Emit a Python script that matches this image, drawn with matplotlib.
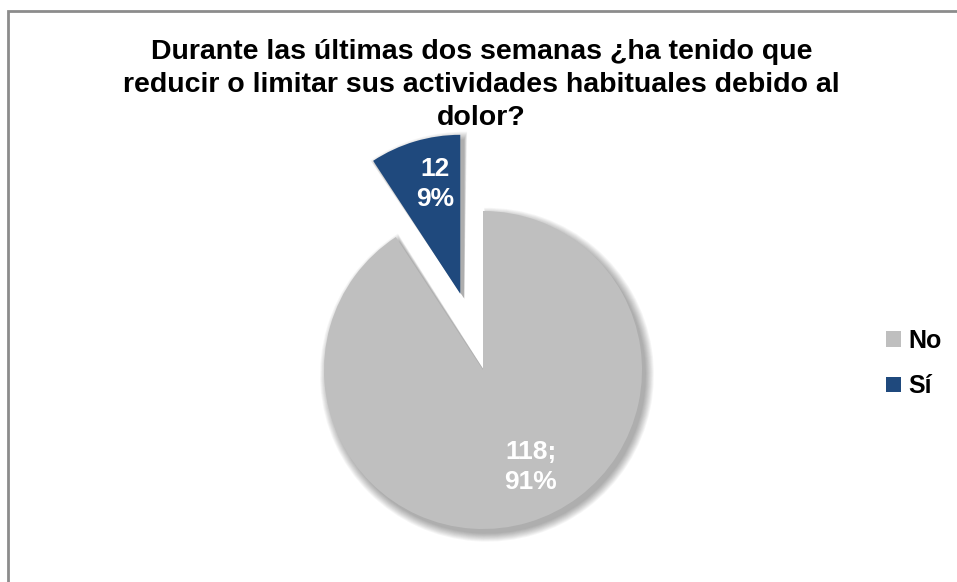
import numpy as np
import matplotlib
matplotlib.use("Agg")
import matplotlib.pyplot as plt
from matplotlib.patches import Wedge, Rectangle

plt.rcParams['font.family'] = ['Liberation Sans', 'DejaVu Sans']

categories = ['No', 'Sí']
counts = [118, 12]
percents = [91, 9]
label_text = ['118;\n91%', '12\n9%']
colors = ['#BFBFBF', '#1F497D']
explode = [0, 0.5]

title = ('Durante las últimas dos semanas ¿ha tenido que\n'
         'reducir o limitar sus actividades habituales debido al\n'
         'dolor?')

W, H = 957, 582
fig = plt.figure(figsize=(W / 100, H / 100), dpi=100)

# pie axes: 1 data unit = R pixels, centre at (cx, cy) from the top-left
R, cx, cy = 159, 483, 370
xl, xr, yb, yt = -1.6, 1.6, -1.15, 1.6
ax = fig.add_axes([(cx + xl * R) / W, (H - cy + yb * R) / H,
                   (xr - xl) * R / W, (yt - yb) * R / H])

wedges, texts = ax.pie(counts, colors=colors, explode=explode,
                       startangle=90, counterclock=False,
                       wedgeprops=dict(linewidth=0))
ax.set_xlim(xl, xr)
ax.set_ylim(yb, yt)

# soft drop shadow under each slice
for w in wedges:
    c = np.array(w.center) + np.array([0.025, -0.03])
    for d in np.linspace(0.0, 0.05, 10):
        sh = Wedge(c, w.r + d, w.theta1 - d * 20, w.theta2 + d * 20,
                   facecolor='black', alpha=0.035, linewidth=0, zorder=0)
        ax.add_patch(sh)
    w.set_zorder(2)

# value labels inside the slices
label_pos = [(0.30, -0.61), (-0.30, 1.17)]
for (x, y), t in zip(label_pos, label_text):
    ax.text(x, y, t, ha='center', va='center', color='white',
            fontsize=19, fontweight='bold', linespacing=1.3, zorder=3)

fig.text(0.503, 1 - 85 / H, title, ha='center', va='center',
         fontsize=20.5, fontweight='bold', linespacing=1.33)

fig.legend(wedges, categories, loc='upper left',
           bbox_to_anchor=(886 / W, 1 - 329 / H), frameon=False,
           prop=dict(size=18, weight='bold'), handlelength=0.6,
           handleheight=0.6, handletextpad=0.3, labelspacing=0.85,
           borderpad=0, borderaxespad=0)

# chart area border (top and left edges visible)
fig.patches.append(Rectangle((8 / W, -0.1), 1.2, 1 - 11 / H + 0.1,
                             transform=fig.transFigure, fill=False,
                             edgecolor='#8C8C8C', linewidth=2))

fig.savefig('out.png', dpi=100)
